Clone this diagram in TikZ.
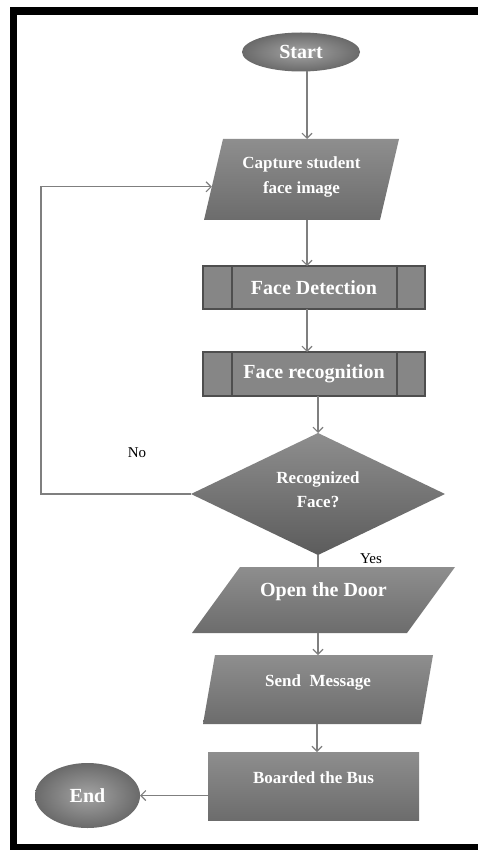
\documentclass[tikz,border=0pt]{standalone}
\usepackage{fontspec}
\setmainfont{Liberation Serif}
\usetikzlibrary{shapes.geometric,arrows.meta,calc}
\definecolor{conncol}{HTML}{7F7F7F}
\definecolor{gtop}{HTML}{8E8E8E}
\definecolor{gbot}{HTML}{6C6C6C}
\definecolor{gin}{HTML}{A4A4A4}
\definecolor{gout}{HTML}{6A6A6A}
\definecolor{procfill}{HTML}{868686}
\definecolor{procline}{HTML}{4E4E4E}
\begin{document}
\begin{tikzpicture}[x=1pt,y=-1pt,
  conn/.style={draw=conncol, line width=1.1pt},
  arr/.style={conn, -{Straight Barb[length=5pt,width=10pt,line width=1.1pt]}},
  termnode/.style={ellipse, inner sep=0pt, outer sep=0pt, inner color=gin, outer color=gout},
  procnode/.style={rectangle, inner sep=0pt, outer sep=0pt, fill=procfill, draw=procline, line width=1.3pt},
  boxnode/.style={rectangle, inner sep=0pt, outer sep=0pt, top color=gtop, bottom color=gbot},
  ionode/.style={rectangle, inner sep=0pt, outer sep=0pt, draw=none},
  iofill/.style={top color=gtop, bottom color=gbot},
  bigtxt/.style={text=white, font=\fontsize{20}{24}\selectfont\bfseries, inner sep=0pt},
  midtxt/.style={text=white, font=\fontsize{17}{25}\selectfont\bfseries, inner sep=0pt, align=center},
  smalltxt/.style={text=black, font=\fontsize{15}{18}\selectfont, inner sep=0pt}
]
\useasboundingbox (0,0) rectangle (478,850);
\fill[white] (0,0) rectangle (478,850);
% frame (cropped on the right and bottom)
\fill[black] (10,7) rectangle (478,15);
\fill[black] (10,7) rectangle (17,850);
\fill[black] (10,844) rectangle (478,850);

% column coordinates
\coordinate (colA) at (307,0);
\coordinate (loopx) at (41,0);

% shapes
\node[termnode, minimum width=118pt, minimum height=39pt] (start) at (301,52) {};
\node[ionode, minimum width=195pt, minimum height=81pt] (cap) at (301.5,179.5) {};
\path[iofill] ([xshift=19pt]cap.north west) -- (cap.north east) -- ([xshift=-19pt]cap.south east) -- (cap.south west) -- cycle;
\node[procnode, minimum width=222pt, minimum height=43pt] (det) at (314,287.5) {};
\draw[procline, line width=1.3pt] ([xshift=29pt]det.north west) -- ([xshift=29pt]det.south west)
  ([xshift=-28pt]det.north east) -- ([xshift=-28pt]det.south east);
\node[procnode, minimum width=222pt, minimum height=44pt] (rec) at (314,374) {};
\draw[procline, line width=1.3pt] ([xshift=29pt]rec.north west) -- ([xshift=29pt]rec.south west)
  ([xshift=-28pt]rec.north east) -- ([xshift=-28pt]rec.south east);
\node[diamond, inner sep=0pt, outer sep=0pt, minimum width=254pt, minimum height=122pt, top color=gtop, bottom color=gbot!85!black] (dec) at (318,494) {};
\node[ionode, minimum width=263pt, minimum height=66pt] (door) at (323.5,600) {};
\path[iofill] ([xshift=48pt]door.north west) -- (door.north east) -- ([xshift=-48pt]door.south east) -- (door.south west) -- cycle;
\node[ionode, minimum width=230pt, minimum height=69pt] (send) at (318,689.5) {};
\path[iofill] ([xshift=12pt]send.north west) -- (send.north east) -- ([xshift=-12pt]send.south east) -- (send.south west) -- cycle;
\node[boxnode, minimum width=211pt, minimum height=68pt] (board) at (313.5,786) {};
\node[termnode, minimum width=105pt, minimum height=65pt] (end) at (87.5,795.5) {};

% texts
\node[bigtxt] (tStart) at (start.center) {Start};
\node[midtxt] (tCap) at ([yshift=3pt]cap.center) {Capture student\\face image};
\node[bigtxt] (tDet) at (det.center) {Face Detection};
\node[bigtxt] (tRec) at (rec.center) {Face recognition};
\node[midtxt, font=\fontsize{17}{24}\selectfont\bfseries] (tDec) at ([yshift=4pt]dec.center) {Recognized\\Face?};
\node[bigtxt] (tDoor) at ([yshift=8pt]door.center) {Open the Door};
\node[midtxt] (tSend) at ([yshift=7pt]send.center) {Send\ \ Message};
\node[midtxt] (tBoard) at ([yshift=8pt]board.center) {Boarded the Bus};
\node[bigtxt] (tEnd) at (end.center) {End};
\node[smalltxt] (tNo) at (137,453) {No};
\node[smalltxt] (tYes) at (371,559) {Yes};

% capture entry point on the slanted left edge
\coordinate (capin) at ($(cap.south west)!0.41!([xshift=19pt]cap.north west)$);

% connectors
\draw[arr] (start.south -| colA) -- (cap.north -| colA);
\draw[arr] (cap.south -| colA) -- (det.north -| colA);
\draw[arr] (det.south -| colA) -- (rec.north -| colA);
\draw[arr] (rec.south -| dec.north) -- (dec.north);
\draw[conn] (dec.south) -- (door.north -| dec.south);
\draw[arr] (door.south -| dec.south) -- (send.north -| dec.south);
\draw[arr] ([xshift=-1pt]send.south) -- ([xshift=-1pt]send.south |- board.north);
\draw[arr] (end.east -| board.west) -- (end.east);
\draw[arr] (dec.west) -- (dec.west -| loopx) -- (capin -| loopx) -- (capin);
\end{tikzpicture}
\end{document}
